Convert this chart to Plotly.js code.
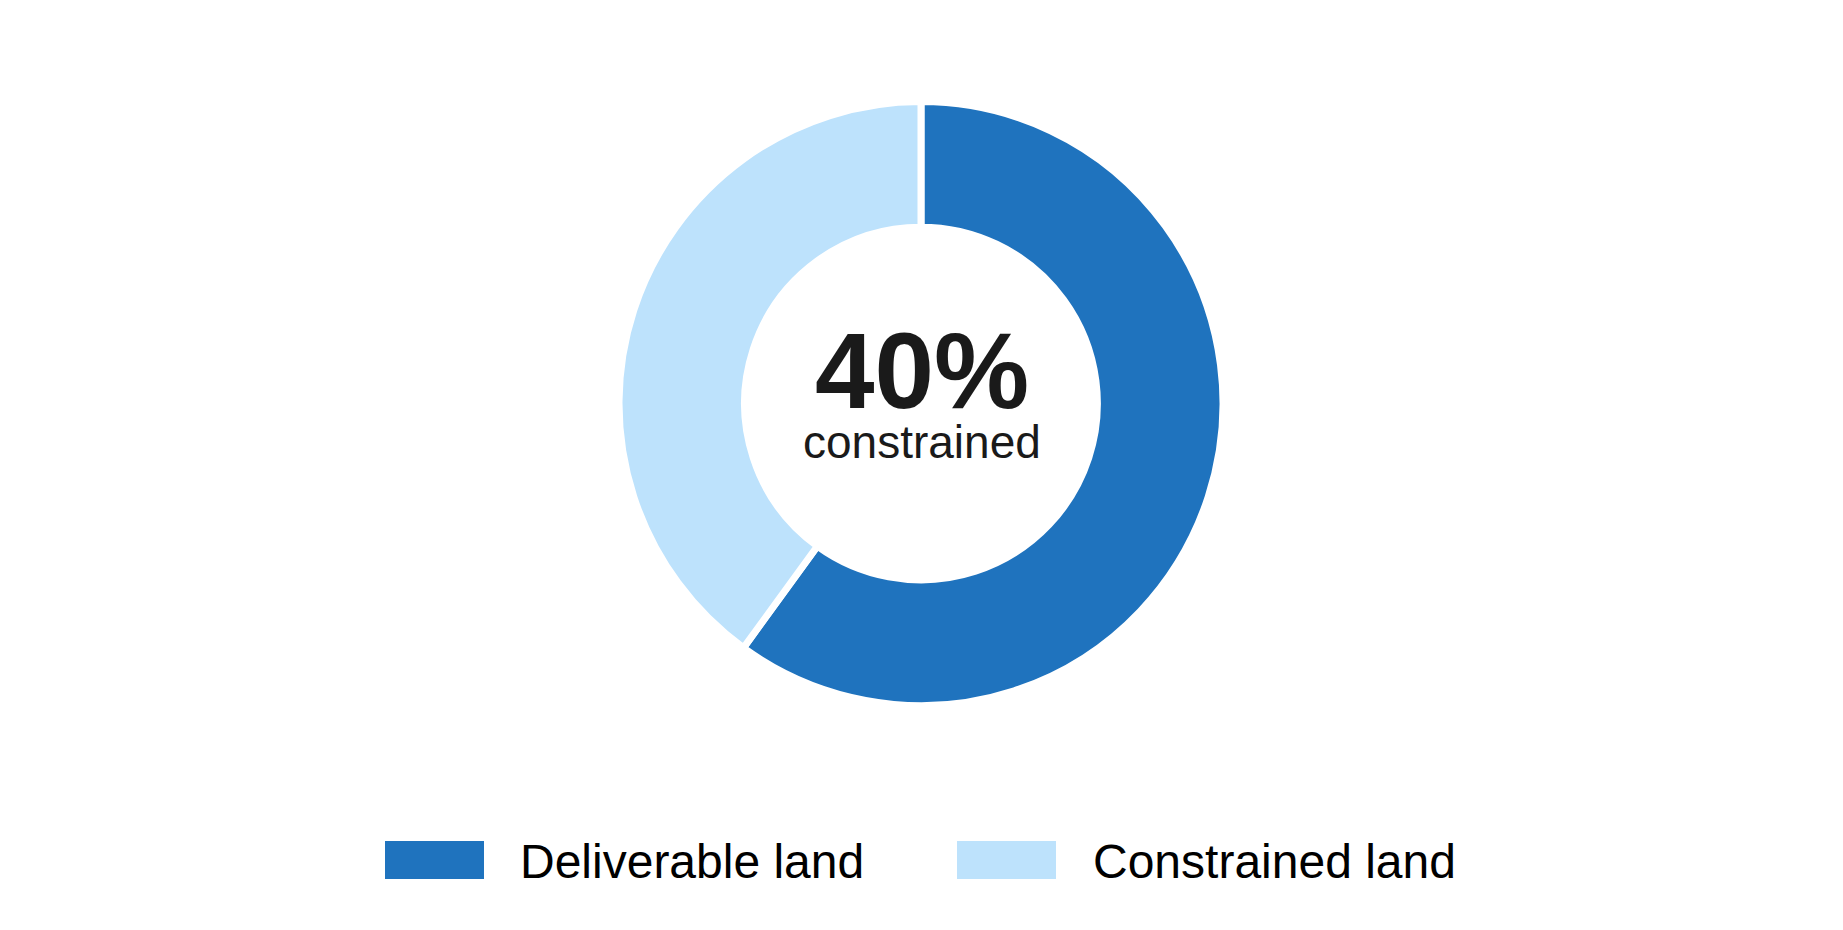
<!DOCTYPE html>
<html>
<head>
<meta charset="utf-8">
<script src="https://cdn.plot.ly/plotly-3.0.1.min.js"></script>
<style>
  html, body { margin: 0; padding: 0; background: #fff; }
  #chart { width: 1843px; height: 930px; }
</style>
</head>
<body>
<div id="chart"></div>
<script>
var labels = ['Deliverable land', 'Constrained land'];
var values = [60, 40];
var colors = ['#1f73be', '#bde2fc'];
var centerValue = '40%';
var centerLabel = 'constrained';

var W = 1843, H = 930;
function px(x) { return x / W; }
function py(y) { return 1 - y / H; }

var data = [{
    type: 'pie',
    labels: labels,
    values: values,
    hole: 0.584,
    sort: false,
    direction: 'clockwise',
    rotation: 0,
    textinfo: 'none',
    hoverinfo: 'label+percent',
    marker: {colors: colors, line: {color: '#ffffff', width: 7}},
    domain: {x: [0, 0.99946], y: [py(705.5), py(101.5)]}
}];

// legend drawn as swatches + labels so the swatch size matches
var swatchX = [385, 957];
var textX = [518, 1091];
var shapes = [];
var annotations = [
    {text: '<b>' + centerValue + '</b>', x: px(922), y: py(371), xref: 'paper', yref: 'paper',
     xanchor: 'center', yanchor: 'middle', showarrow: false,
     font: {family: 'Liberation Sans, Arial, sans-serif', size: 107, color: '#1a1a1a'}},
    {text: centerLabel, x: px(922), y: py(441.5), xref: 'paper', yref: 'paper',
     xanchor: 'center', yanchor: 'middle', showarrow: false,
     font: {family: 'Liberation Sans, Arial, sans-serif', size: 46, color: '#1a1a1a'}}
];
labels.forEach(function(lab, i) {
    shapes.push({type: 'rect', xref: 'paper', yref: 'paper',
        x0: px(swatchX[i]), x1: px(swatchX[i] + 99), y0: py(879), y1: py(841),
        fillcolor: colors[i], line: {width: 0}});
    annotations.push({text: lab, x: px(textX[i]), y: py(861), xref: 'paper', yref: 'paper',
        xanchor: 'left', yanchor: 'middle', showarrow: false,
        font: {family: 'Liberation Sans, Arial, sans-serif', size: 48, color: '#000000'}});
});

var layout = {
    width: W, height: H,
    margin: {l: 0, r: 0, t: 0, b: 0},
    showlegend: false,
    paper_bgcolor: '#ffffff',
    plot_bgcolor: '#ffffff',
    shapes: shapes,
    annotations: annotations
};

Plotly.newPlot('chart', data, layout, {displayModeBar: false, staticPlot: true});
</script>
</body>
</html>
